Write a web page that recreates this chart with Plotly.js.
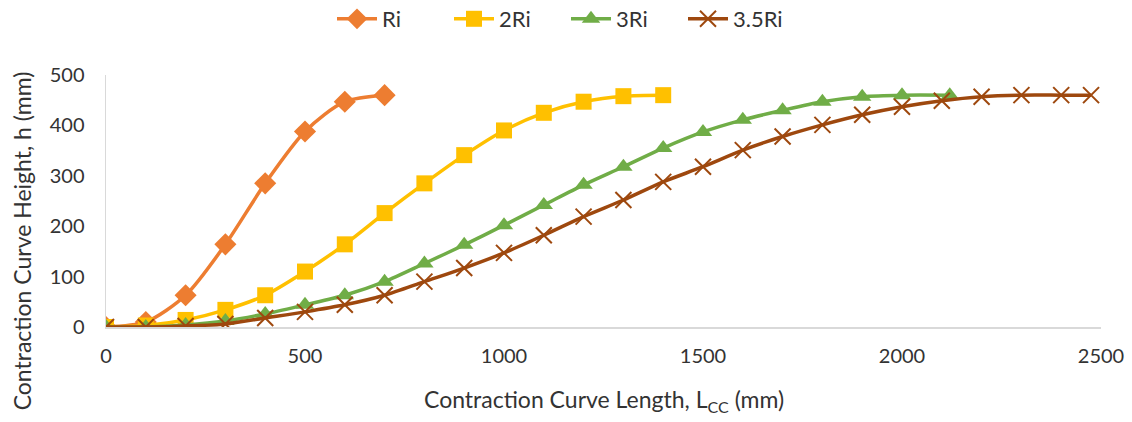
<!DOCTYPE html>
<html>
<head>
<meta charset="utf-8">
<script src="https://cdn.plot.ly/plotly-3.0.1.min.js"></script>
<style>html,body{margin:0;padding:0;background:#fff;}#chart{width:1132px;height:422px;}</style>
</head>
<body>
<div id="chart"></div>
<script>
const seriesNames = ["Ri", "2Ri", "3Ri", "3.5Ri"];
const xRi = [0, 100, 200, 300, 400, 500, 600, 700];
const yRi = [0, 10, 63, 164, 285, 388, 447, 460];
const x2Ri = [0, 100, 200, 300, 400, 500, 600, 700, 800, 900, 1000, 1100, 1200, 1300, 1400];
const y2Ri = [0, 3, 14, 34, 63, 110, 164, 226, 285, 341, 390, 425, 447, 458, 460];
const x3Ri = [0, 100, 200, 300, 400, 500, 600, 700, 800, 900, 1000, 1100, 1200, 1300, 1400, 1500, 1600, 1700, 1800, 1900, 2000, 2120];
const y3Ri = [0, 0, 4, 12, 26, 44, 63, 90, 126, 163, 202, 242, 282, 318, 355, 387, 411, 430, 447, 457, 460, 460];
const x35Ri = [0, 100, 200, 300, 400, 500, 600, 700, 800, 900, 1000, 1100, 1200, 1300, 1400, 1500, 1600, 1700, 1800, 1900, 2000, 2100, 2200, 2300, 2400, 2475];
const y35Ri = [0, 0, 2, 6, 18, 30, 44, 63, 90, 117, 147, 182, 219, 252, 288, 318, 351, 378, 401, 421, 437, 449, 457, 460, 460, 460];
const xTicks = [0, 500, 1000, 1500, 2000, 2500];
const yTicks = [0, 100, 200, 300, 400, 500];
const xTitle = "Contraction Curve Length, L<sub>CC</sub> (mm)";
const yTitle = "Contraction Curve Height, h (mm)";

const FONT = "Lato, Carlito, sans-serif";
const colors = ["#ED7D31", "#FFC000", "#70AD47", "#9E480E"];
const markers = [
  {symbol: "diamond", size: 17},
  {symbol: "square", size: 16},
  {symbol: "triangle-up", size: 16},
  {symbol: "x-thin", size: 16}
];
const xs = [xRi, x2Ri, x3Ri, x35Ri];
const ys = [yRi, y2Ri, y3Ri, y35Ri];

const data = seriesNames.map((n, i) => ({
  type: "scatter",
  mode: "lines+markers",
  name: n,
  x: xs[i],
  y: ys[i],
  line: {color: colors[i], width: 3.5, shape: "spline", smoothing: 0.8},
  marker: markers[i].symbol === "x-thin"
    ? {symbol: "x-thin", size: markers[i].size, color: colors[i], line: {color: colors[i], width: 2}}
    : {symbol: markers[i].symbol, size: markers[i].size, color: colors[i]}
}));

const layout = {
  width: 1132, height: 422,
  margin: {l: 106, r: 31, t: 75, b: 95, autoexpand: false},
  paper_bgcolor: "#fff", plot_bgcolor: "#fff",
  font: {family: FONT, size: 19, color: "#333"},
  showlegend: true,
  legend: {orientation: "h", x: 0.5, xanchor: "center", xref: "container",
           y: 0.955, yanchor: "middle", yref: "container",
           font: {family: FONT, size: 22, color: "#333"}, itemwidth: 40,
           entrywidth: 62, entrywidthmode: "pixels"},
  xaxis: {
    range: [0, 2500], tickvals: xTicks, ticktext: xTicks.map(String),
    showgrid: false, zeroline: false, showline: true, linecolor: "#d9d9d9", linewidth: 1.5,
    ticks: "", ticklabelstandoff: 10, tickfont: {family: FONT, size: 20, color: "#333"}
  },
  yaxis: {
    range: [0, 500], tickvals: yTicks, ticktext: yTicks.map(String),
    showgrid: false, zeroline: false, showline: true, linecolor: "#d9d9d9", linewidth: 1.5,
    ticks: "", ticklabelstandoff: 16, tickfont: {family: FONT, size: 20, color: "#333"}
  },
  annotations: [
    {text: xTitle, xref: "paper", yref: "paper", x: 0.5, y: -0.29, xanchor: "center", yanchor: "middle",
     showarrow: false, font: {family: FONT, size: 23, color: "#333"}},
    {text: yTitle, xref: "paper", yref: "paper", x: -0.0844, y: 0.34, xanchor: "center", yanchor: "middle",
     textangle: -90, showarrow: false, font: {family: FONT, size: 23, color: "#333"}}
  ]
};

Plotly.newPlot("chart", data, layout, {displayModeBar: false, staticPlot: true});
</script>
</body>
</html>
